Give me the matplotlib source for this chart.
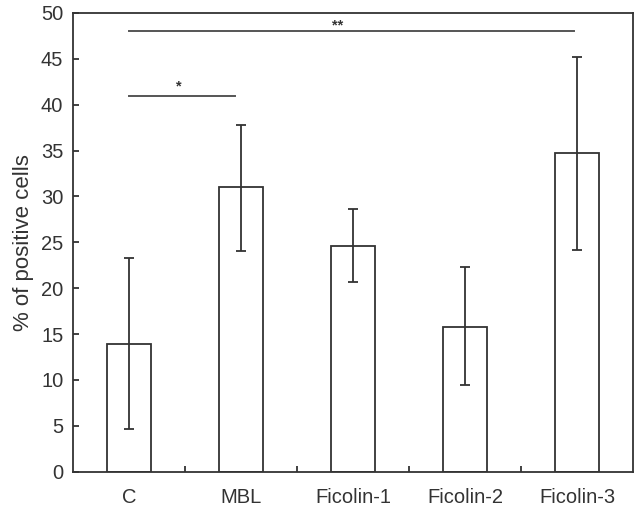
import matplotlib
matplotlib.use('Agg')
import matplotlib.pyplot as plt
import numpy as np

plt.rcParams['font.family'] = ['Liberation Sans', 'DejaVu Sans']

#==================================================================
# values
groups = ['C', 'MBL', 'Ficolin-1', 'Ficolin-2', 'Ficolin-3']
means = [13.9, 31.0, 24.6, 15.8, 34.7]
err_low = [4.6, 24.1, 20.7, 9.5, 24.2]
err_high = [23.3, 37.8, 28.6, 22.3, 45.2]
yticks = [0, 5, 10, 15, 20, 25, 30, 35, 40, 45, 50]

# significance lines: start, end, level, label, label x, label baseline
sig_lines = [(0, 0.95, 40.9, '*', 0.446, 41.6),
             (0, 3.97, 48.0, '**', 1.86, 48.2)]
#==================================================================

dark = '#333333'
x = np.arange(len(groups))
means = np.array(means)
yerr = [means - np.array(err_low), np.array(err_high) - means]

fig = plt.figure(figsize=(6.34, 5.08), dpi=100)
ax = fig.add_axes([0.1151, 0.0715, 0.8833, 0.903])

ax.bar(x, means, width=0.4, color='white', edgecolor=dark, linewidth=1.3)
ax.errorbar(x, means, yerr=yerr, fmt='none', ecolor=dark, elinewidth=1.3,
            capsize=3.5, capthick=1.3)

for x0, x1, y, lab, tx, ty in sig_lines:
    ax.plot([x0, x1], [y, y], color='#555555', lw=1.4)
    ax.text(tx, ty, lab, ha='center', va='baseline', fontsize=10.5,
            fontweight='bold', color=dark)

ax.set_xlim(-0.5, 4.5)
ax.set_ylim(0, 50)
ax.set_yticks(yticks)
ax.set_xticks(x)
ax.set_xticklabels(groups)
ax.set_xticks(x[:-1] + 0.5, minor=True)

ax.tick_params(axis='x', which='major', length=0, pad=12, labelsize=14.5,
               colors=dark)
ax.tick_params(axis='x', which='minor', direction='in', length=4.5,
               width=1.3, color=dark)
ax.tick_params(axis='y', direction='in', length=4.5, width=1.3, pad=7,
               labelsize=14.5, colors=dark)
for s in ax.spines.values():
    s.set_color(dark)
    s.set_linewidth(1.3)

ax.set_ylabel('% of positive cells', fontsize=16, color=dark, labelpad=5)

fig.savefig('out.png', dpi=100)
